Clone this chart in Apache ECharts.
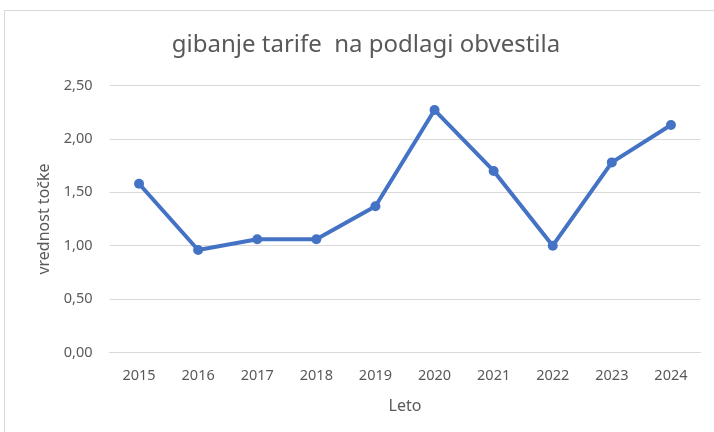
<!DOCTYPE html>
<html>
<head>
<meta charset="utf-8">
<script src="https://cdn.jsdelivr.net/npm/echarts@6/dist/echarts.min.js"></script>
<style>
  html, body { margin: 0; padding: 0; background: #fff; }
  #frame {
    position: absolute; left: 4px; top: 10px;
    width: 730px; height: 440px;
    border: 1px solid #d9d9d9; box-sizing: border-box;
  }
  #chart { position: absolute; left: 0; top: 0; width: 714px; height: 432px; }
</style>
</head>
<body>
<div id="frame"></div>
<div id="chart"></div>
<script>
// leta in vrednosti točke
const years = ["2015", "2016", "2017", "2018", "2019", "2020", "2021", "2022", "2023", "2024"];
const values = [1.58, 0.96, 1.06, 1.06, 1.37, 2.27, 1.70, 1.00, 1.78, 2.13];

const myChart = echarts.init(document.getElementById("chart"));
const font = "Noto Sans";
const grey = "#595959";

myChart.setOption({
    title: {
        text: "gibanje tarife  na podlagi obvestila",
        left: 361, top: 28, textAlign: "center",
        textStyle: { fontFamily: font, fontSize: 24, fontWeight: "normal", color: grey },
    },
    grid: { left: 109.5, right: 13.5, top: 85.5, bottom: 79.5 },
    xAxis: {
        type: "category",
        data: years,
        boundaryGap: true,
        name: "Leto",
        nameLocation: "middle",
        nameGap: 46,
        nameTextStyle: { fontFamily: font, fontSize: 16, color: grey },
        axisLine: { lineStyle: { color: "#d9d9d9", width: 1 } },
        axisTick: { show: false },
        axisLabel: { fontFamily: font, fontSize: 14.5, color: grey, margin: 16 },
    },
    yAxis: {
        type: "value",
        min: 0, max: 2.5, interval: 0.5,
        name: "vrednost točke",
        nameLocation: "middle",
        nameGap: 57,
        nameTextStyle: { fontFamily: font, fontSize: 16, color: grey },
        axisLine: { show: false },
        axisTick: { show: false },
        splitLine: { lineStyle: { color: "#d9d9d9", width: 1 } },
        axisLabel: {
            fontFamily: font, fontSize: 14.5, color: grey, margin: 17,
            formatter: (v) => v.toFixed(2).replace(".", ","),
        },
    },
    series: [
        {
            type: "line",
            data: values,
            symbol: "circle",
            symbolSize: 10,
            lineStyle: { color: "#4472c4", width: 4 },
            itemStyle: { color: "#4472c4" },
            animation: false,
        },
    ],
});
</script>
</body>
</html>
